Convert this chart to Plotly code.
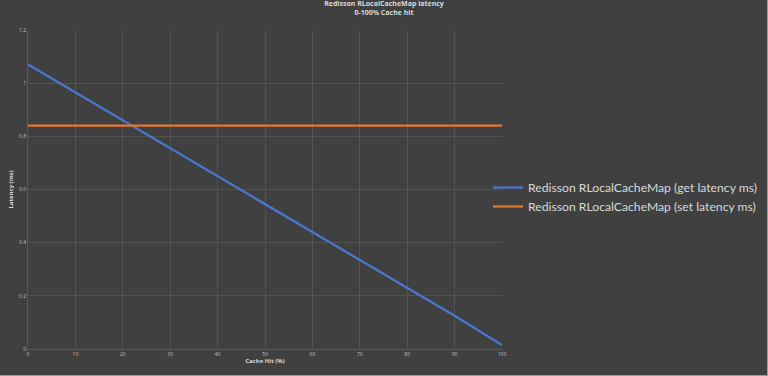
import plotly.graph_objects as go

cache_hit = [0, 10, 20, 30, 40, 50, 60, 70, 80, 90, 100]
get_latency = [1.07, 0.965, 0.86, 0.755, 0.65, 0.545, 0.44, 0.335, 0.23, 0.125, 0.015]
set_latency = [0.84, 0.84, 0.84, 0.84, 0.84, 0.84, 0.84, 0.84, 0.84, 0.84, 0.84]
x_ticks = [0, 10, 20, 30, 40, 50, 60, 70, 80, 90, 100]
y_ticks = [0, 0.2, 0.4, 0.6, 0.8, 1, 1.2]
y_tick_text = ["0", "0.2", "0.4", "0.6", "0.8", "1", "1.2"]

L, R, T, B = 28, 266, 30, 27
PW, PH = 768 - L - R, 376 - T - B

fig = go.Figure()
fig.add_trace(go.Scatter(x=cache_hit, y=get_latency, mode="lines",
                         name="Redisson RLocalCacheMap (get latency ms)",
                         line=dict(color="#4a78d0", width=2.2)))
fig.add_trace(go.Scatter(x=cache_hit, y=set_latency, mode="lines",
                         name="Redisson RLocalCacheMap (set latency ms)",
                         line=dict(color="#e3782e", width=2.2)))

fig.update_layout(
    width=768, height=376,
    paper_bgcolor="#404040", plot_bgcolor="#404040",
    margin=dict(l=L, r=R, t=T, b=B, autoexpand=False),
    font=dict(family="Open Sans, sans-serif", color="#d9d9d9"),
    title=dict(text="<b>Redisson RLocalCacheMap latency<br>0-100% Cache hit</b>",
               x=0.5, xanchor="center", y=0.985, yanchor="top",
               font=dict(size=7, color="#d9d9d9")),
    xaxis=dict(range=[0, 100], tickvals=x_ticks, showgrid=True, gridcolor="#535353",
               zeroline=False, showline=True, linecolor="#5a5a5a",
               tickfont=dict(size=5, color="#bfbfbf"),
               title=dict(text="<b>Cache Hit (%)</b>", font=dict(size=6, color="#d9d9d9"), standoff=2)),
    yaxis=dict(range=[0, 1.2], tickvals=y_ticks, ticktext=y_tick_text, showgrid=True,
               gridcolor="#535353", zeroline=False, showline=True, linecolor="#5a5a5a",
               tickfont=dict(size=5, color="#bfbfbf"),
               title=dict(text="<b>Latency (ms)</b>", font=dict(size=6, color="#d9d9d9"), standoff=4)),
    legend=dict(x=(488 - L) / PW, xanchor="left", y=(376 - B - 197) / PH, yanchor="middle",
                font=dict(family="Lato, sans-serif", size=12.2, color="#d9d9d9"),
                bgcolor="rgba(0,0,0,0)", itemwidth=30, tracegroupgap=0),
    showlegend=True,
)
# light frame on right and bottom edges of the image
fig.add_shape(type="line", xref="paper", yref="paper", x0=-L / PW, x1=1 + R / PW,
              y0=-(B - 0.5) / PH, y1=-(B - 0.5) / PH, line=dict(color="#9a9a9a", width=1))
fig.add_shape(type="line", xref="paper", yref="paper", x0=1 + (R - 0.5) / PW, x1=1 + (R - 0.5) / PW,
              y0=-B / PH, y1=1 + T / PH, line=dict(color="#9a9a9a", width=1))

fig.write_html("out.html", config={"displayModeBar": False},
               post_script="document.body.style.margin='0';")
